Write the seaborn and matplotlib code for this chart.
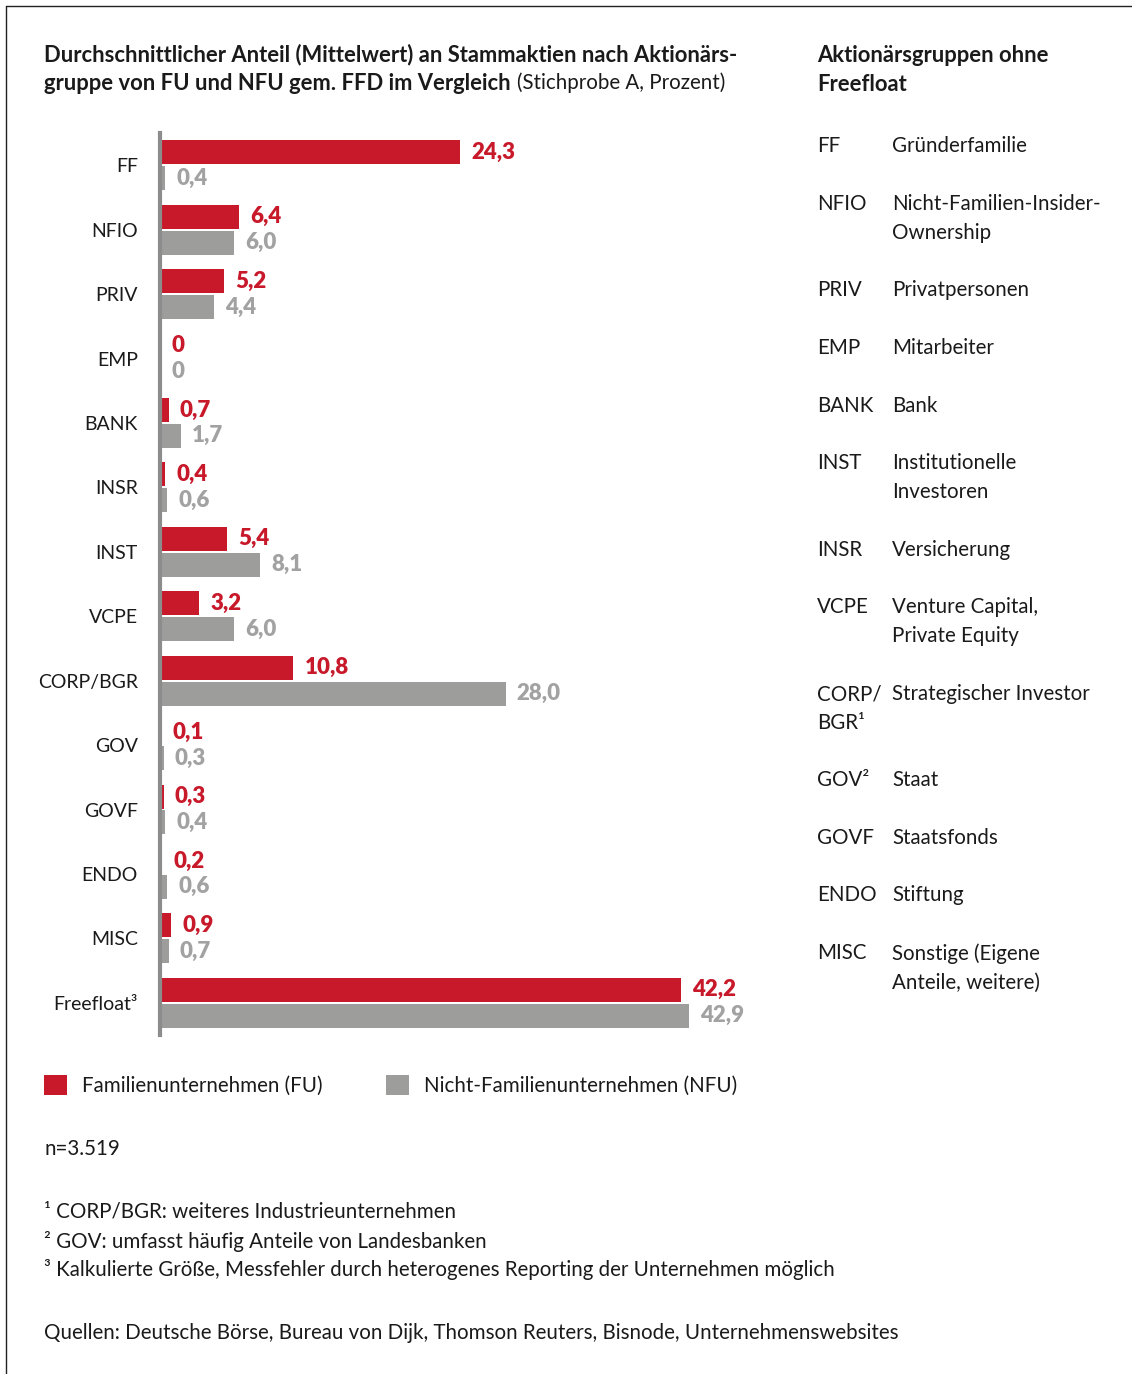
import pandas as pd
import matplotlib.pyplot as plt
import seaborn as sns
from matplotlib.lines import Line2D

# Chart data
groups = ['FF', 'NFIO', 'PRIV', 'EMP', 'BANK', 'INSR', 'INST', 'VCPE',
          'CORP/BGR', 'GOV', 'GOVF', 'ENDO', 'MISC', 'Freefloat³']
fu_values = [24.3, 6.4, 5.2, 0, 0.7, 0.4, 5.4, 3.2, 10.8, 0.1, 0.3, 0.2, 0.9, 42.2]
nfu_values = [0.4, 6.0, 4.4, 0, 1.7, 0.6, 8.1, 6.0, 28.0, 0.3, 0.4, 0.6, 0.7, 42.9]
series_names = ['Familienunternehmen (FU)', 'Nicht-Familienunternehmen (NFU)']

# Right-hand glossary
gloss_abbr = ['FF', 'NFIO', 'PRIV', 'EMP', 'BANK', 'INST', 'INSR', 'VCPE',
              'CORP/\nBGR¹', 'GOV²', 'GOVF', 'ENDO', 'MISC']
gloss_text = ['Gründerfamilie', 'Nicht-Familien-Insider-\nOwnership', 'Privatpersonen',
              'Mitarbeiter', 'Bank', 'Institutionelle\nInvestoren', 'Versicherung',
              'Venture Capital,\nPrivate Equity', 'Strategischer Investor', 'Staat',
              'Staatsfonds', 'Stiftung', 'Sonstige (Eigene\nAnteile, weitere)']

footnotes = ['¹ CORP/BGR: weiteres Industrieunternehmen',
             '² GOV: umfasst häufig Anteile von Landesbanken',
             '³ Kalkulierte Größe, Messfehler durch heterogenes Reporting der Unternehmen möglich']

RED = '#C8192B'
GREY = '#9D9D9C'
GREY_TXT = '#A2A2A2'
W, H = 1132, 1374
FS = 14.8      # regular text
FS_B = 15.8    # bold headings


def fx(x):
    return x / W


def fy(y):
    return 1 - y / H


def fmt(v):
    return '0' if v == 0 else f"{v:.1f}".replace('.', ',')


sns.set_theme(style='white')
plt.rcParams['font.family'] = ['Lato', 'DejaVu Sans']
plt.rcParams['text.color'] = '#1a1a1a'

df = pd.DataFrame({
    'Gruppe': groups * 2,
    'Wert': fu_values + nfu_values,
    'Typ': [series_names[0]] * len(groups) + [series_names[1]] * len(groups),
})

fig = plt.figure(figsize=(W / 100, H / 100), dpi=100)
ax = fig.add_axes([fx(160), fy(1035), fx(777 - 160), (1035 - 133) / H])

sns.barplot(data=df, y='Gruppe', x='Wert', hue='Typ', palette=[RED, GREY],
            orient='h', width=0.8, gap=0.07, saturation=1, linewidth=0, ax=ax)
ax.set_xlim(0, 50)
ax.set_ylim(len(groups) - 0.5, -0.5)
ax.set_xlabel('')
ax.set_ylabel('')
ax.set_xticks([])
sns.despine(ax=ax, top=True, right=True, bottom=True)
ax.spines['left'].set_color('#8C8C8C')
ax.spines['left'].set_linewidth(3)
ax.tick_params(axis='y', length=0, pad=16, labelsize=14, labelcolor='#1a1a1a')

for cont, vals, col in zip(ax.containers, [fu_values, nfu_values], [RED, GREY_TXT]):
    ax.bar_label(cont, labels=[fmt(v) for v in vals], padding=8, color=col,
                 fontweight='heavy', fontsize=16)

handles, labels = ax.get_legend_handles_labels()
ax.get_legend().remove()
fig.legend(handles, labels, loc='upper left', bbox_to_anchor=(fx(44), fy(1075)),
           ncol=2, frameon=False, fontsize=FS, handlelength=1.1, handleheight=1.1,
           handletextpad=0.75, columnspacing=3.1, borderpad=0, borderaxespad=0)

# Title with mixed weights
fig.text(fx(44), fy(55), 'Durchschnittlicher Anteil (Mittelwert) an Stammaktien nach Aktionärs-',
         fontsize=FS_B, fontweight='bold', va='center')
t2 = fig.text(fx(44), fy(83), 'gruppe von FU und NFU gem. FFD im Vergleich',
              fontsize=FS_B, fontweight='bold', va='center')
fig.canvas.draw()
bb = t2.get_window_extent()
fig.text(bb.x1 / W + fx(6), fy(83), '(Stichprobe A, Prozent)', fontsize=FS, va='center')

# Glossary on the right
fig.text(fx(817), fy(45), 'Aktionärsgruppen ohne\nFreefloat', fontsize=FS_B,
         fontweight='bold', va='top', linespacing=1.45)
gloss_y = [145, 203, 289, 347, 405, 462, 549, 606, 693, 779, 837, 894, 952]
for yy, ab, tx in zip(gloss_y, gloss_abbr, gloss_text):
    fig.text(fx(817), fy(yy - 9), ab, fontsize=FS, va='top', linespacing=1.56)
    fig.text(fx(892), fy(yy - 9), tx, fontsize=FS, va='top', linespacing=1.56)

# Bottom notes
fig.text(fx(44), fy(1149), 'n=3.519', fontsize=FS, va='center')
for i, note in enumerate(footnotes):
    fig.text(fx(44), fy(1212 + 29 * i), note, fontsize=FS, va='center')
fig.text(fx(44), fy(1333), 'Quellen: Deutsche Börse, Bureau von Dijk, Thomson Reuters, Bisnode, Unternehmenswebsites',
         fontsize=FS, va='center')

# Frame lines (top and left)
fig.add_artist(Line2D([fx(6), 1], [fy(6), fy(6)], color='#222222', lw=1, transform=fig.transFigure))
fig.add_artist(Line2D([fx(6), fx(6)], [fy(6), 0], color='#222222', lw=1, transform=fig.transFigure))

fig.savefig('out.png', dpi=100)
